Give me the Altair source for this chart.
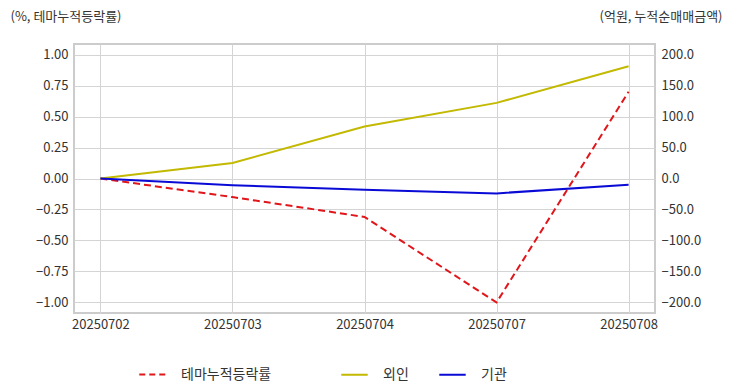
import altair as alt
import pandas as pd

dates = ["20250702", "20250703", "20250704", "20250707", "20250708"]
theme = [0.0, -0.15, -0.31, -1.0, 0.70]
foreign = [0.0, 25.0, 84.0, 122.0, 181.0]
inst = [0.0, -11.0, -18.0, -24.0, -10.0]

FONT = "Noto Sans CJK KR"

df_theme = pd.DataFrame({"date": dates, "value": theme, "series": "테마누적등락률"})
df_flow = pd.concat([
    pd.DataFrame({"date": dates, "value": foreign, "series": "외인"}),
    pd.DataFrame({"date": dates, "value": inst, "series": "기관"}),
])

x = alt.X("date:O", scale=alt.Scale(type="point", padding=0.2),
          axis=alt.Axis(title=None, labelAngle=0, grid=True, ticks=False, domain=False,
                        labelPadding=5, labelFontSize=13, labelColor="#333333",
                        gridColor="#d4d4d4"))

left = alt.Chart(df_theme).mark_line(strokeWidth=2, strokeDash=[7, 4]).encode(
    x=x,
    y=alt.Y("value:Q", scale=alt.Scale(domain=[-1.085, 1.085], nice=False, zero=False),
            axis=alt.Axis(values=[-1, -0.75, -0.5, -0.25, 0, 0.25, 0.5, 0.75, 1.0],
                          format=".2f", ticks=False, domain=False, grid=True,
                          gridColor="#d4d4d4", labelPadding=6, labelFontSize=13,
                          labelColor="#333333",
                          title="(%, 테마누적등락률)", titleAngle=0, titleAlign="left",
                          titleBaseline="middle", titleX=-64, titleY=-28,
                          titleFontWeight="normal", titleFontSize=13, titleColor="#333333")),
    color=alt.Color("series:N", scale=alt.Scale(domain=["테마누적등락률"], range=["#e0161b"]),
                    legend=alt.Legend(title=None, orient="none", legendX=64, legendY=316,
                                      symbolType="stroke", symbolDash=[6, 4],
                                      symbolStrokeWidth=2, symbolSize=700,
                                      labelFontSize=14, labelColor="#333333",
                                      labelOffset=14, padding=0)),
)

right = alt.Chart(df_flow).mark_line(strokeWidth=2).encode(
    x=x,
    y=alt.Y("value:Q", scale=alt.Scale(domain=[-217, 217], nice=False, zero=False),
            axis=alt.Axis(orient="right", values=[-200, -150, -100, -50, 0, 50, 100, 150, 200],
                          format=".1f", ticks=False, domain=False, grid=False,
                          labelPadding=6, labelFontSize=13, labelColor="#333333",
                          title="(억원, 누적순매매금액)", titleAngle=0, titleAlign="right",
                          titleBaseline="middle", titleX=67, titleY=-28,
                          titleFontWeight="normal", titleFontSize=13, titleColor="#333333")),
    color=alt.Color("series:N", scale=alt.Scale(domain=["외인", "기관"], range=["#c2b900", "#0a0ad6"]),
                    legend=alt.Legend(title=None, orient="none", direction="horizontal",
                                      legendX=266, legendY=316, columnPadding=26,
                                      symbolType="stroke", symbolStrokeWidth=2, symbolSize=700,
                                      labelFontSize=14, labelColor="#333333",
                                      labelOffset=14, padding=0)),
)

chart = alt.layer(left, right).resolve_scale(y="independent", color="independent").properties(
    width=581, height=269,
    autosize=alt.AutoSizeParams(type="none"),
    padding={"left": 66, "top": 36, "right": 69, "bottom": 70},
).configure(font=FONT).configure_view(stroke="#cccccc", strokeWidth=2)

chart.save("out.html", embed_options={"renderer": "svg", "actions": False})
